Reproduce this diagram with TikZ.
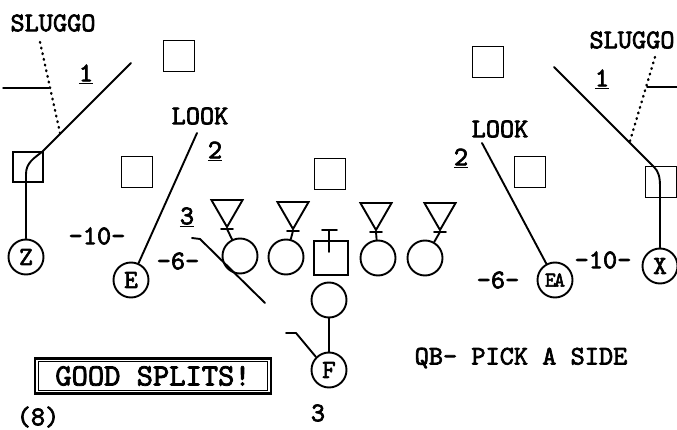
\documentclass[tikz,border=0pt]{standalone}
\usepackage{fontspec}
\newfontfamily\twfont{lmmono10-regular.otf}[FakeBold=2.5]
\usetikzlibrary{shapes.geometric}
\tikzset{
  route/.style={line width=1.9pt, line cap=round, line join=round},
  dots/.style={line width=2.4pt, line cap=round, dash pattern=on 0.8pt off 5pt},
  sq/.style={draw, line width=1.9pt, minimum size=31pt, inner sep=0pt},
  pc/.style={circle, draw, line width=1.9pt, minimum size=35pt, inner sep=0pt,
             font=\twfont\fontsize{26}{26}\selectfont},
  dl/.style={regular polygon, regular polygon sides=3, shape border rotate=180,
             draw, line width=1.9pt, minimum size=36pt, inner sep=0pt},
  lbl/.style={font=\twfont\fontsize{27}{27}\selectfont, inner sep=0pt},
}
\begin{document}
\begin{tikzpicture}[x=1pt,y=-1pt]
\useasboundingbox (0,0) rectangle (677,430);
\fill[white] (0,0) rectangle (677,430);

% squares (defense)
\node[sq] (sqTL) at (179,56) {};
\node[sq] (sqL2) at (137,172) {};
\node[sq, minimum size=30pt] (sqZ) at (28,167) {};
\node[sq] (sqC1) at (330,174) {};
\node[sq] (sqR1) at (488,62) {};
\node[sq] (sqR2) at (530,172) {};
\node[sq] (sqX) at (661,182) {};

% triangles
\node[dl] (t1) at (227,209) {};
\node[dl] (t2) at (293,211) {};
\node[dl] (t3) at (376,212) {};
\node[dl] (t4) at (440,212) {};

% offense
\node[pc] (z) at (26,257) {Z};
\node[pc] (e) at (131,280) {E};
\node[pc] (c1) at (240,256) {};
\node[pc] (c2) at (286,257) {};
\node[sq, minimum size=34pt] (cc) at (331,258) {};
\node[pc] (c3) at (378,258) {};
\node[pc] (c4) at (425,258) {};
\node[pc] (qb) at (329,300) {};
\node[pc] (f) at (329,370) {F};
\node[pc, font=\twfont\fontsize{21}{21}\selectfont] (ea) at (555,280) {E\kern-2ptA};
\node[pc] (x) at (660,266) {X};

% ticks under triangles
\foreach \t/\c in {t1/c1,t2/c2,t3/c3,t4/c4}{
  \draw[route] ([xshift=-6pt]\t.south) -- ([xshift=6pt]\t.south);
  \draw[route] (\t.south) -- (\c);
}

% center T
\coordinate (ctL) at (322,230);
\coordinate (ctR) at (337,230);
\coordinate (ctT) at (329,230);
\coordinate (ctB) at (329,252);
\draw[route] (ctL) -- (ctR);
\draw[route] (ctT) -- (ctB);

% left Z route
\coordinate (zb) at (26,174);
\coordinate (zc) at (42,152);
\coordinate (zend) at (131,63);
\draw[route] (z) -- (zb) .. controls (26,163) and (34,158) .. (zc) -- (zend);
\coordinate (dLt) at (40,42);
\coordinate (dLb) at (60,133);
\draw[dots] (dLt) -- (dLb);
\coordinate (hL1) at (3,88);
\coordinate (hL2) at (49,88);
\draw[route, line width=1.4pt] (hL1) -- (hL2);

% E route
\coordinate (lkL) at (197,133);
\draw[route] (lkL) -- (e);

% block by 3
\coordinate (b3a) at (192,238);
\coordinate (b3b) at (200,239);
\coordinate (b3c) at (265,303);
\draw[route] (b3a) -- (b3b) -- (b3c);

% QB and F
\draw[route] (qb) -- (f);
\coordinate (fa) at (296,333);
\coordinate (fb) at (286,333);
\draw[route] (f.north west) -- (fa) -- (fb);

% right X route
\coordinate (rend) at (554,67);
\coordinate (rc) at (654,167);
\coordinate (rb) at (660,186);
\draw[route] (rend) -- (rc) .. controls (658,171) and (660,176) .. (rb) -- (x);
\coordinate (dRt) at (655,57);
\coordinate (dRb) at (630,141);
\draw[dots] (dRt) -- (dRb);
\coordinate (hR1) at (647,87);
\coordinate (hR2) at (677,87);
\draw[route, line width=1.4pt] (hR1) -- (hR2);

% EA route
\coordinate (lkR) at (482,143);
\draw[route] (lkR) -- (ea);

% labels
\node[lbl] (slL) at (53,23) {SLUGGO};
\node[lbl] (n1L) at (86,74) {\underline{1}};
\node[lbl] (lookL) at (200,116) {LOOK};
\node[lbl] (n2L) at (215,151) {\underline{2}};
\node[lbl] (tenL) at (97,236) {-10-};
\node[lbl] (sixL) at (178,261) {-6-};
\node[lbl] (n3L) at (187,217) {\underline{3}};
\node[lbl] (slR) at (632,40) {SLUGGO};
\node[lbl] (n1R) at (602,79) {\underline{1}};
\node[lbl] (lookR) at (500,129) {LOOK};
\node[lbl] (n2R) at (461,158) {\underline{2}};
\node[lbl] (sixR) at (498,280) {-6-};
\node[lbl] (tenR) at (603,260) {-10-};
\node[lbl] (qbt) at (521,358) {QB- PICK A SIDE};
\node[lbl] (eight) at (38,417) {(8)};
\node[lbl] (three) at (318,413) {3};

% good splits box
\node[draw, line width=2.6pt, minimum width=236pt, minimum height=35pt, inner sep=0pt,
      font=\twfont\fontsize{31}{31}\selectfont] (gs) at (153,376) {GOOD SPLITS!};
\draw[line width=1.2pt] ([shift={(5pt,4pt)}]gs.south west) rectangle ([shift={(-5pt,-4pt)}]gs.north east);
\end{tikzpicture}
\end{document}
